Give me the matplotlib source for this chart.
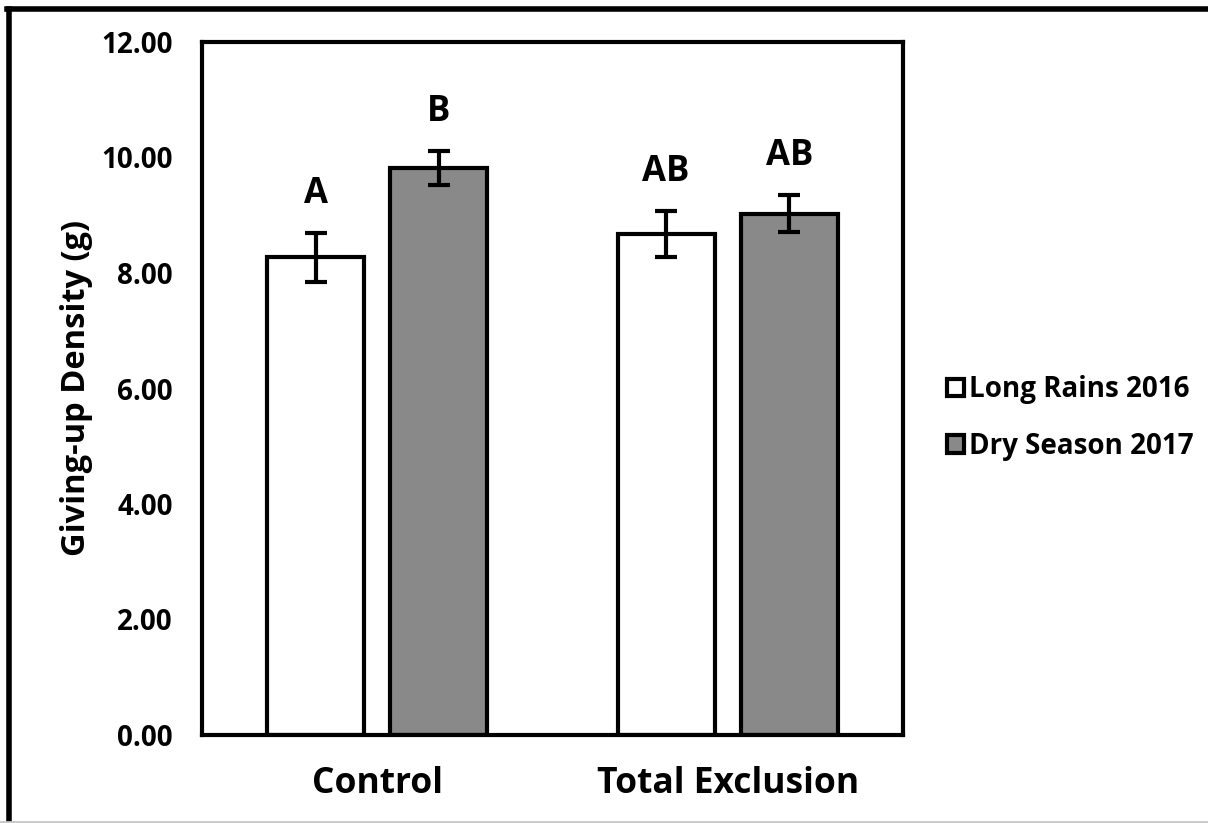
import matplotlib
matplotlib.use('Agg')
import matplotlib.pyplot as plt
import numpy as np
from matplotlib.patches import Patch
from matplotlib.lines import Line2D

plt.rcParams['font.family'] = ['Open Sans', 'DejaVu Sans']
plt.rcParams['font.weight'] = 'bold'

# --- data ---
groups = ['Control', 'Total Exclusion']
series = ['Long Rains 2016', 'Dry Season 2017']
long_rains = [8.27, 8.68]
dry_season = [9.82, 9.03]
long_err = [0.42, 0.40]
dry_err = [0.30, 0.32]
long_letters = ['A', 'AB']
dry_letters = ['B', 'AB']
colors = ['#ffffff', '#898989']

fig = plt.figure(figsize=(12.08, 8.23), dpi=100)
ax = fig.add_axes([202 / 1208, 1 - 735 / 823, 701 / 1208, (735 - 42) / 823])

x = np.arange(len(groups))
offset = 0.176
width = 0.277

for vals, errs, letters, dx, c in [
    (long_rains, long_err, long_letters, -offset, colors[0]),
    (dry_season, dry_err, dry_letters, offset, colors[1]),
]:
    ax.bar(x + dx, vals, width, color=c, edgecolor='black', linewidth=3, zorder=2)
    ax.errorbar(x + dx, vals, yerr=errs, fmt='none', ecolor='black',
                elinewidth=3, capsize=8, capthick=3, zorder=3)
    for xi, v, e, t in zip(x + dx, vals, errs, letters):
        ax.text(xi, v + e + 0.36, t, ha='center', va='bottom',
                fontsize=25, fontweight='bold')

ax.set_xlim(-0.5, 1.5)
ax.set_ylim(0, 12)
ax.set_yticks(np.arange(0, 12.1, 2))
ax.set_yticklabels([f'{v:.2f}' for v in np.arange(0, 12.1, 2)], fontsize=20)
ax.set_xticks(x)
ax.set_xticklabels(groups, fontsize=25.5)
ax.tick_params(axis='both', length=0)
ax.tick_params(axis='y', pad=21)
ax.tick_params(axis='x', pad=22)
for s in ax.spines.values():
    s.set_linewidth(3)
    s.set_color('black')
ax.set_ylabel('Giving-up Density (g)', fontsize=23.5, fontweight='bold', labelpad=6)

handles = [Patch(facecolor=c, edgecolor='black', linewidth=3) for c in colors]
fig.legend(handles, series, loc='center left', bbox_to_anchor=(922 / 1208, 1 - 418 / 823),
           frameon=False, fontsize=20, handlelength=0.6, handleheight=0.6,
           handletextpad=0.2, labelspacing=1.0)

# outer frame like the source image
fig.add_artist(Line2D([9 / 1208, 9 / 1208], [0.003, 1 - 9 / 823], transform=fig.transFigure,
                      color='black', linewidth=4))
fig.add_artist(Line2D([7 / 1208, 1.0], [1 - 9 / 823, 1 - 9 / 823], transform=fig.transFigure,
                      color='black', linewidth=4))
fig.add_artist(Line2D([0, 1.0], [0.001, 0.001], transform=fig.transFigure,
                      color='#c8c8c8', linewidth=2))

fig.savefig('out.png', dpi=100)
